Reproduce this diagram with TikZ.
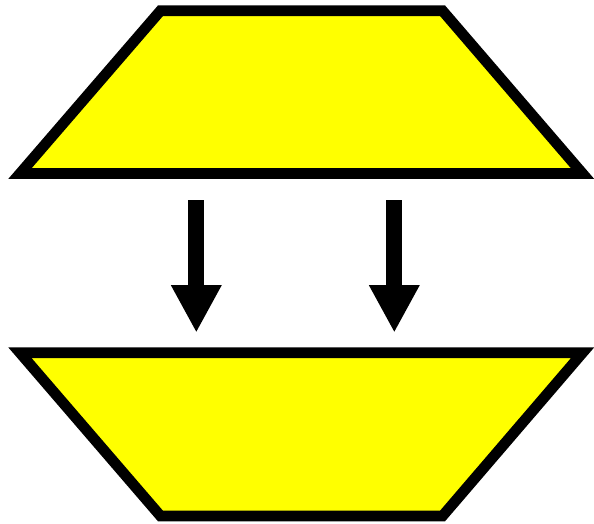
\documentclass[tikz,border=0pt]{standalone}
\usetikzlibrary{arrows.meta}
\definecolor{trapyellow}{RGB}{255,255,0}
\begin{document}
\begin{tikzpicture}[x=1pt,y=-1pt,
  trap/.style={draw=black,fill=trapyellow,line width=10.7pt,line join=miter},
  bigarrow/.style={draw=black,line width=15.7pt,-{Triangle[width=47.3pt,length=47.7pt]}}]
\useasboundingbox (0,0) rectangle (594,523);
\draw[trap] (160.5,10.7) -- (442.5,10.7) -- (582.5,173.5) -- (20,173.5) -- cycle;
\draw[trap] (20,352.8) -- (582.5,352.8) -- (442.5,516) -- (160.5,516) -- cycle;
\coordinate (s1) at (196.3,200);
\coordinate (e1) at (196.3,332.7);
\coordinate (s2) at (394.3,200);
\coordinate (e2) at (394.3,332.7);
\draw[bigarrow] (s1) -- (e1);
\draw[bigarrow] (s2) -- (e2);
\end{tikzpicture}
\end{document}
